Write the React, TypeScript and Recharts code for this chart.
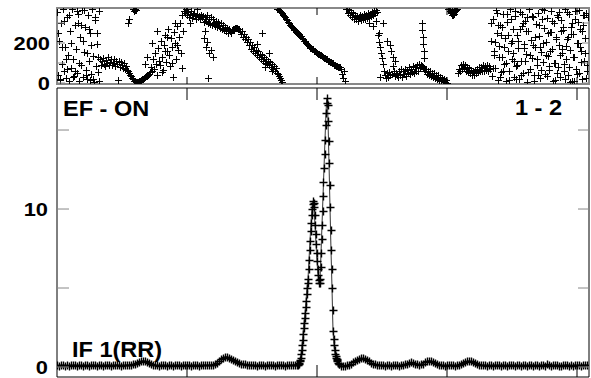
import React from "react";
import { ComposedChart, ScatterChart, Scatter, Line, XAxis, YAxis, ReferenceArea } from "recharts";

// channel axis (no labels), ticks only
const xTicks = [130, 260, 390, 520];
const xDomain = [0, 532];

// phase panel
const phaseTicks = [0, 100, 200, 300];
const phaseLabels = [0, 200];
const phaseDomain = [-5, 375];

// amplitude panel
const ampTicks = [0, 5, 10, 15];
const ampLabels = [0, 10];
const ampDomain = [-0.633, 17.66];

// amplitude, x = 0..240 step 2
const ampLeft = [
	0.12, 0.08, 0.1, 0.14, 0.09, 0.11, 0.07, 0.12, 0.1, 0.13, 0.08, 0.1, 0.11, 0.09, 0.12, 0.1, 0.08, 0.11, 0.13, 0.1,
	0.09, 0.12, 0.1, 0.08, 0.11, 0.1, 0.12, 0.09, 0.1, 0.11, 0.13, 0.1, 0.09, 0.11, 0.1, 0.12, 0.11, 0.13,
	0.16, 0.2, 0.25, 0.3, 0.36, 0.4, 0.37, 0.31, 0.24, 0.18, 0.14,
	0.12, 0.1, 0.09, 0.11, 0.1, 0.12, 0.08, 0.1, 0.11, 0.09, 0.1, 0.12, 0.1, 0.08, 0.11, 0.1, 0.13, 0.1, 0.09, 0.11,
	0.12, 0.1, 0.09, 0.1, 0.11, 0.12, 0.1, 0.11, 0.13, 0.15,
	0.2, 0.28, 0.38, 0.48, 0.58, 0.65, 0.66, 0.6, 0.52, 0.45, 0.38, 0.32, 0.27, 0.22, 0.18,
	0.16, 0.14, 0.13, 0.12, 0.1, 0.11, 0.09, 0.12, 0.1, 0.11, 0.09, 0.1, 0.12, 0.1, 0.11, 0.09, 0.1, 0.12, 0.11, 0.1,
	0.09, 0.11, 0.1, 0.12, 0.11, 0.12, 0.13,
];

// amplitude around the line, x = 240.5..282 step 0.5
const ampPeak = [
	0.15, 0.18, 0.22, 0.28, 0.36, 0.45, 0.6, 0.8, 1.1, 1.4, 1.7, 2.1, 2.5, 2.8, 3.1, 3.4, 3.8, 4.2, 4.6, 5.0,
	5.3, 5.6, 6.2, 6.8, 7.4, 8.0, 8.6, 9.1, 9.6, 10.0, 10.3, 10.5, 10.4, 10.1, 9.6, 9.0, 8.4, 7.8, 7.2, 6.7,
	6.2, 5.8, 5.5, 5.3, 5.3, 5.6, 6.3, 7.2, 8.1, 9.0, 9.9, 10.8, 11.7, 12.6, 13.5, 14.4, 15.3, 16.1, 16.7, 17.0,
	16.6, 15.6, 14.3, 12.9, 11.5, 10.1, 8.7, 7.4, 6.2, 5.0, 3.6, 2.3, 1.8, 1.4, 1.1, 0.85, 0.7, 0.6, 0.5, 0.42,
	0.35, 0.28, 0.22, 0.18,
];

// amplitude, x = 284..530 step 2
const ampRight = [
	0.08, 0.06, 0.07, 0.1,
	0.15, 0.22, 0.3, 0.38, 0.45, 0.52, 0.56, 0.55, 0.5, 0.43, 0.36, 0.28, 0.22, 0.17, 0.13,
	0.11, 0.1, 0.12, 0.09, 0.1, 0.11, 0.08, 0.1, 0.12, 0.1, 0.09, 0.11, 0.13,
	0.17, 0.22, 0.28, 0.3, 0.27, 0.22, 0.17, 0.14,
	0.16, 0.22, 0.3, 0.36, 0.4, 0.38, 0.33, 0.27, 0.2, 0.15, 0.12, 0.1,
	0.09, 0.11, 0.1, 0.12, 0.1, 0.09, 0.11, 0.13,
	0.17, 0.23, 0.3, 0.36, 0.38, 0.35, 0.3, 0.24, 0.18, 0.14, 0.12,
	0.1, 0.12, 0.09, 0.11, 0.1, 0.08, 0.12, 0.1, 0.11, 0.09, 0.13, 0.1, 0.08, 0.11, 0.12, 0.1, 0.09, 0.14, 0.1, 0.08,
	0.12, 0.11, 0.09, 0.1, 0.15, 0.08, 0.12, 0.1, 0.07, 0.13, 0.11, 0.09, 0.16, 0.1, 0.08, 0.12, 0.1, 0.14, 0.09, 0.07,
	0.12, 0.1, 0.15, 0.09, 0.11, 0.08, 0.13, 0.1, 0.12, 0.09, 0.14, 0.11, 0.13,
];

// phase (deg), x = 0..530 step 1
const phase = [
	// noise
	355, 40, 210, 15, 300, 95, 370, 60, 180, 25, 330, 140, 8, 260, 75, 368, 120, 35, 290, 170,
	50, 345, 10, 230, 90, 365, 30, 155, 280, 65, 20, 340, 110, 250, 45, 371, 135, 5, 315, 85, 195, 55, 360,
	118, 92, 110, 125, 95, 84, 115, 102, 128, 90, 105, 120, 88, 98, 122, 86, 110, 94, 14, 112,
	82, 104, 90, 76, 98, 70, 86, 64,
	60, 50, 41, 33, 25, 18, 12, 8, 5, 4,
	6, 8, 11, 14, 18, 21, 25, 28, 33, 37, 42, 47,
	55, 80, 62, 120, 70, 150, 95, 40, 175, 110, 88, 210, 130, 65, 190, 240, 105, 160, 270, 140,
	85, 225, 180, 30, 255, 200, 120, 285, 165, 230, 300, 150, 340, 260, 360,
	350, 372, 338, 355, 330, 345, 362, 325, 340, 350, 333, 318, 345, 328, 336, 322, 340, 330,
	335, 305, 328, 312, 340, 300, 322, 295, 330, 290, 318, 300, 285, 312, 280, 305, 292, 276, 300, 270,
	290, 265, 282, 258, 276, 252, 270, 260, 248, 266,
	268, 271, 274, 277, 275, 272, 268,
	262, 245, 258, 232, 246, 218, 230, 204, 220, 188, 205, 172, 190, 158, 178, 150, 165, 138, 158, 130,
	145, 122, 138, 110, 130, 100, 122, 95, 112, 88, 104, 78, 96, 70, 85, 62, 75,
	372, 369, 366, 360, 355, 348, 342, 336, 328, 320, 313, 305, 298,
	// line
	290, 287, 278, 275, 266, 264, 256, 253, 245, 243, 236, 233, 223, 221, 211, 209, 199, 197, 188, 185,
	177, 176, 169, 168, 161, 160, 153, 152, 146, 146, 140, 139, 133, 132, 126, 125, 119, 118, 112, 111,
	104, 104, 98, 98, 92, 92, 86, 87, 81, 82, 78,
	70, 45, 25, 60, 10,
	368, 372, 352, 364, 340, 356, 330, 348, 322, 342, 318, 336, 312, 330, 340, 315, 335, 322, 345, 318,
	340, 326, 350, 330, 345, 335, 355, 340, 362, 348, 366, 355,
	240, 205, 180, 150, 125, 95, 62, 40, 25, 48, 30, 55, 38, 160, 45, 130, 58, 35, 50, 42,
	30, 62, 40, 68, 28, 58, 45, 72, 36, 66, 50, 78, 44, 70, 55, 85, 48, 80, 62, 92, 58, 95, 75,
	88, 84, 78, 70, 62,
	70, 45, 62, 38, 58, 35, 52, 28, 48, 25, 42, 20, 38, 15, 30, 12, 26, 8, 20, 5, 14, 2,
	372, 368, 360, 350, 340, 338, 346, 358, 366, 371,
	48, 70, 60, 88, 68, 95, 75, 90, 62, 82, 55, 74, 48, 66, 42, 62, 40, 64, 50, 72,
	55, 78, 60, 82, 58, 88, 62, 84, 66, 90, 58, 86, 70,
	// noise
	210, 35, 320, 140, 75, 365, 250, 15, 185, 290, 55, 130, 345, 95, 225, 10, 305, 160, 60, 368,
	200, 120, 270, 30, 335, 85, 240, 175, 20, 355, 110, 285, 50, 195, 310, 145, 5, 260, 370, 70,
	215, 125, 330, 40, 180, 295, 90, 350, 235, 25, 155, 372, 105, 275, 45, 205, 325, 135, 65, 255,
	360, 170, 12, 300, 100, 230, 340, 80, 190, 28, 315, 150, 265, 58, 372, 118, 220, 38, 345, 165,
	280, 8, 245, 130, 362, 72, 198, 305, 48, 268, 158, 22, 338, 112, 225, 352, 88,
];

// extra phase points [x, deg]
const phaseStray: [number, number][] = [
	[1, 250], [3, 20], [5, 180], [7, 310], [9, 120], [10, 70], [12, 340], [14, 200], [16, 30], [18, 60],
	[20, 360], [21, 300], [22, 100], [24, 290], [26, 210], [27, 366], [29, 40], [30, 150], [32, 270],
	[33, 15], [34, 190], [36, 20], [38, 330], [40, 250], [41, 130], [42, 12],
	[71, 300], [72, 318], [76, 368], [77, 371], [77, 358], [78, 364], [78, 372], [79, 366],
	[88, 95], [90, 130], [95, 200], [100, 260], [105, 55], [108, 160], [110, 230], [115, 100],
	[118, 300], [120, 190], [125, 75], [130, 371], [133, 300], [140, 369],
	[147, 225], [148, 260], [149, 180], [150, 205], [151, 25], [152, 150], [154, 165], [156, 130],
	[200, 195], [205, 250], [208, 80], [212, 150], [215, 60],
	[220, 52], [221, 44], [222, 35], [223, 24], [224, 14], [225, 6],
	[312, 300], [316, 285], [319, 310], [322, 250],
	[323, 30], [326, 300], [330, 210], [333, 190], [336, 85], [338, 110],
	[365, 300], [365, 265], [366, 230], [366, 195], [367, 160], [367, 125],
	[393, 370], [395, 366], [396, 356], [397, 368],
	[434, 300], [436, 75], [437, 160], [438, 205], [440, 350], [441, 290], [442, 130], [443, 30],
	[444, 240], [445, 280], [446, 60], [447, 180], [449, 100], [450, 345], [451, 240], [452, 15],
	[454, 320], [455, 210], [456, 150], [457, 110], [458, 360], [459, 20], [460, 90], [461, 210],
	[463, 270], [464, 40], [465, 345], [466, 300], [467, 175], [468, 110], [469, 260], [470, 330],
	[471, 55], [472, 370], [473, 140], [475, 335], [476, 190], [477, 10], [478, 230], [480, 120],
	[481, 40], [482, 290], [483, 180], [484, 65], [485, 320], [486, 200], [487, 365], [489, 140],
	[490, 35], [491, 250], [492, 85], [493, 160], [494, 255], [495, 310], [497, 100], [498, 15],
	[499, 220], [500, 50], [501, 330], [502, 355], [503, 140], [504, 260], [505, 170], [506, 280],
	[507, 95], [508, 20], [509, 185], [510, 355], [511, 230], [512, 80], [513, 5], [514, 245],
	[515, 300], [516, 130], [517, 12], [518, 320], [519, 70], [520, 45], [521, 200], [522, 365],
	[523, 180], [524, 105], [525, 260], [526, 290], [527, 340], [528, 150], [529, 25], [530, 60], [531, 330],
];

const ampData = [
	...ampLeft.map((a, i) => ({ x: i * 2, a })),
	...ampPeak.map((a, i) => ({ x: 240.5 + i * 0.5, a })),
	...ampRight.map((a, i) => ({ x: 284 + i * 2, a })),
];

const phaseData = [
	...phase.map((p, i) => ({ x: i, p })),
	...phaseStray.map(([x, p]) => ({ x, p })),
];

const FONT = "'Liberation Sans', Arial, Helvetica, sans-serif";

// "+" marker snapped to the pixel grid so the strokes stay crisp
const plus = (cx: number, cy: number, r: number, w: number, key?: string | number) => {
	const x = Math.round(cx) + 0.5;
	const y = Math.round(cy) + 0.5;
	return (
		<path
			key={key}
			d={`M${x - r},${y}h${2 * r}M${x},${y - r}v${2 * r}`}
			stroke="#000"
			strokeWidth={w}
			fill="none"
		/>
	);
};

const yTick =
	(side: "left" | "right", len: number, labels: number[], gap: number) =>
	(props: any) => {
		const { x, y, payload } = props;
		const dir = side === "left" ? 1 : -1;
		return (
			<g>
				<line x1={x} x2={x + dir * len} y1={y} y2={y} stroke="#888" strokeWidth={1} />
				{side === "left" && labels.includes(payload.value) && (
					<text
						transform={`translate(${x - gap},${y}) scale(1.15,1)`}
						textAnchor="end"
						dy="0.36em"
						fontFamily={FONT}
						fontWeight="bold"
						fontSize={19}
						fill="#000"
					>
						{payload.value}
					</text>
				)}
			</g>
		);
	};

const xTick = (dir: number, len: number) => (props: any) => (
	<line x1={props.x} x2={props.x} y1={props.y} y2={props.y + dir * len} stroke="#000" strokeWidth={1} />
);

const Label = ({ x, y, anchor, children }: any) => (
	<text
		transform={`translate(${x},${y}) scale(1.07,1)`}
		textAnchor={anchor}
		fontFamily={FONT}
		fontWeight="bold"
		fontSize={22}
		fill="#000"
	>
		{children}
	</text>
);

export default function App() {
	return (
		<div style={{ position: "absolute", left: 0, top: 0, width: 591, height: 378, background: "#fff" }}>
			<div style={{ position: "absolute", left: 0, top: 0 }}>
				<ScatterChart width={591} height={100} margin={{ top: 7, right: 1, bottom: 15, left: 0 }}>
					<XAxis xAxisId="b" type="number" dataKey="x" domain={xDomain} ticks={xTicks} interval={0}
						allowDataOverflow height={1} tickSize={0} tickMargin={0} tickLine={false} axisLine={false} tick={xTick(-1, 7)} />
					<XAxis xAxisId="t" orientation="top" type="number" dataKey="x" domain={xDomain} ticks={xTicks} interval={0}
						allowDataOverflow height={1} tickSize={0} tickMargin={0} tickLine={false} axisLine={false} tick={xTick(1, 7)} />
					<YAxis yAxisId="l" type="number" dataKey="p" domain={phaseDomain} ticks={phaseTicks} interval={0}
						allowDataOverflow width={57} tickSize={0} tickMargin={0} tickLine={false} axisLine={false}
						tick={yTick("left", 8, phaseLabels, 7)} />
					<YAxis yAxisId="r" orientation="right" type="number" dataKey="p" domain={phaseDomain} ticks={phaseTicks} interval={0}
						allowDataOverflow width={1} tickSize={0} tickMargin={0} tickLine={false} axisLine={false}
						tick={yTick("right", 7, [], 0)} />
					<Scatter xAxisId="b" yAxisId="l" data={phaseData} isAnimationActive={false}
						shape={(p: any) => plus(p.cx, p.cy, 3.5, 1)} />
					<ReferenceArea xAxisId="b" yAxisId="l" x1={xDomain[0]} x2={xDomain[1]} y1={phaseDomain[0]} y2={phaseDomain[1]}
						fill="none" fillOpacity={0} stroke="#888" strokeWidth={2} ifOverflow="visible" />
				</ScatterChart>
			</div>
			<div style={{ position: "absolute", left: 0, top: 0 }}>
				<ComposedChart width={591} height={378} data={ampData} margin={{ top: 87, right: 1, bottom: 0, left: 0 }}>
					<XAxis xAxisId="b" type="number" dataKey="x" domain={xDomain} ticks={xTicks} interval={0}
						allowDataOverflow height={1} tickSize={0} tickMargin={0} tickLine={false} axisLine={false} tick={xTick(-1, 12)} />
					<XAxis xAxisId="t" orientation="top" type="number" dataKey="x" domain={xDomain} ticks={xTicks} interval={0}
						allowDataOverflow height={1} tickSize={0} tickMargin={0} tickLine={false} axisLine={false} tick={xTick(1, 12)} />
					<YAxis yAxisId="l" type="number" domain={ampDomain} ticks={ampTicks} interval={0}
						allowDataOverflow width={57} tickSize={0} tickMargin={0} tickLine={false} axisLine={false}
						tick={yTick("left", 12, ampLabels, 9)} />
					<YAxis yAxisId="r" orientation="right" type="number" domain={ampDomain} ticks={ampTicks} interval={0}
						allowDataOverflow width={1} tickSize={0} tickMargin={0} tickLine={false} axisLine={false}
						tick={yTick("right", 11, [], 0)} />
					<Line xAxisId="b" yAxisId="l" type="linear" dataKey="a" stroke="#000" strokeWidth={0.8}
						isAnimationActive={false} activeDot={false}
						dot={(p: any) => plus(p.cx, p.cy, 4, 1.4, `d${p.index}`)} />
					<ReferenceArea xAxisId="b" yAxisId="l" x1={xDomain[0]} x2={xDomain[1]} y1={ampDomain[0]} y2={ampDomain[1]}
						fill="none" fillOpacity={0} stroke="#000" strokeWidth={1} ifOverflow="visible" />
				</ComposedChart>
			</div>
			<svg width={591} height={378} style={{ position: "absolute", left: 0, top: 0, pointerEvents: "none" }}>
				<Label x={63} y={116} anchor="start">EF - ON</Label>
				<Label x={562} y={115} anchor="end">1 - 2</Label>
				<Label x={72} y={357} anchor="start">IF 1(RR)</Label>
			</svg>
		</div>
	);
}
